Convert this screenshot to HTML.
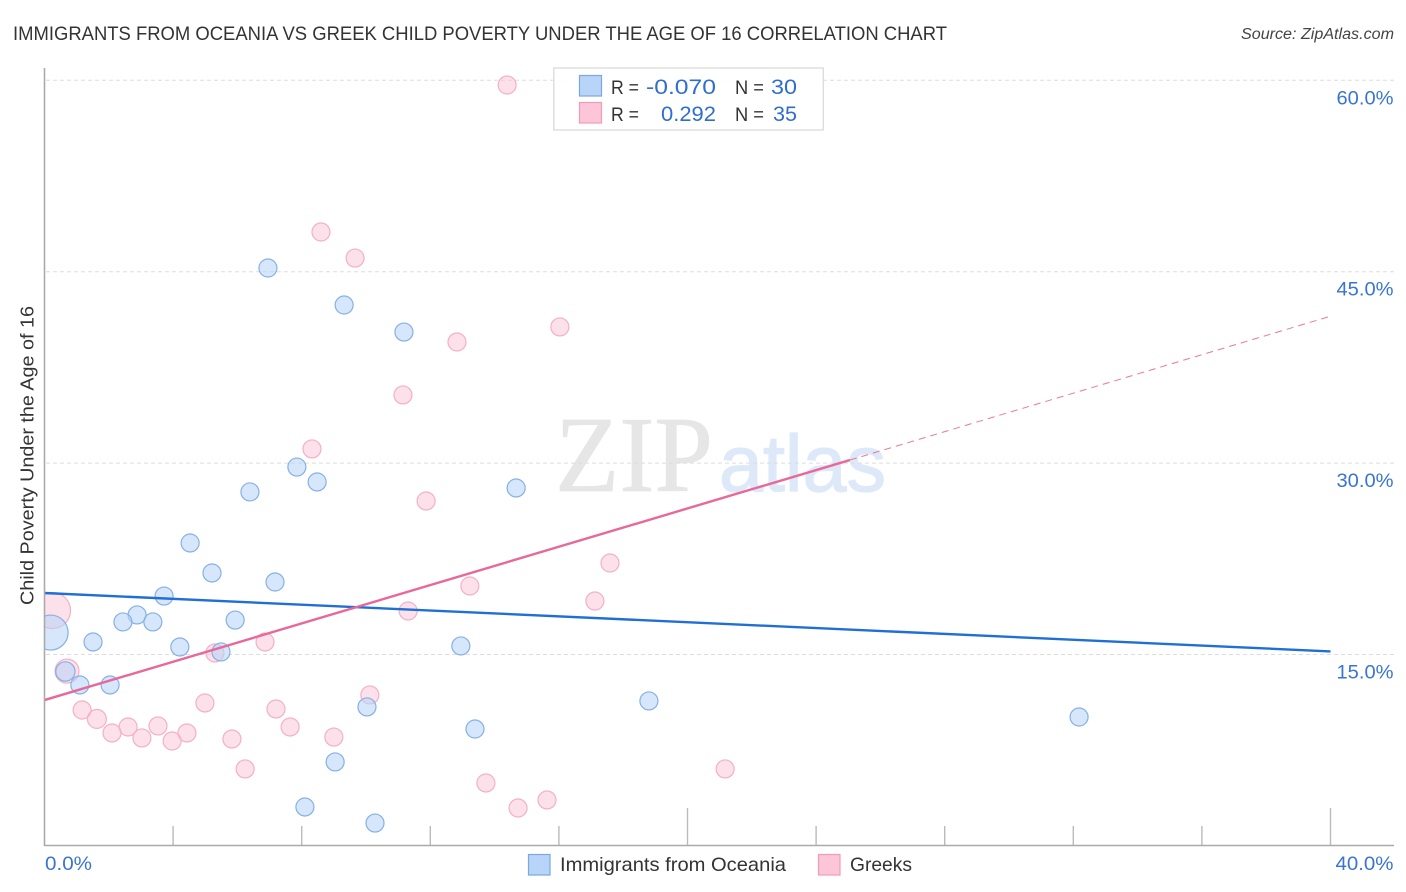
<!DOCTYPE html>
<html lang="en">
<head>
<meta charset="utf-8">
<title>Immigrants from Oceania vs Greek Child Poverty Correlation Chart</title>
<style>
html,body{margin:0;padding:0;background:#fff;}
svg{display:block;font-family:"Liberation Sans",sans-serif;}
</style>
</head>
<body>
<svg id="chart" xmlns="http://www.w3.org/2000/svg" width="1406" height="892" viewBox="0 0 1406 892">
  <defs>
    <clipPath id="plot-clip"><rect x="44.5" y="60" width="1350" height="786"/></clipPath>
  </defs>
  <rect x="0" y="0" width="1406" height="892" fill="#ffffff"/>
  <text x="13" y="40" font-size="19.5" fill="#333333" textLength="934" lengthAdjust="spacingAndGlyphs">IMMIGRANTS FROM OCEANIA VS GREEK CHILD POVERTY UNDER THE AGE OF 16 CORRELATION CHART</text>
  <text x="1241" y="39" font-size="15.5" font-style="italic" fill="#444444" textLength="153" lengthAdjust="spacingAndGlyphs">Source: ZipAtlas.com</text>

  <g>
    <text x="555" y="491" font-family="'Liberation Serif',serif" font-size="108" fill="#e6e6e6" stroke="#e6e6e6" stroke-width="0.8" textLength="158" lengthAdjust="spacingAndGlyphs">ZIP</text>
    <text x="719" y="491" font-size="80" fill="#dde9f8" stroke="#dde9f8" stroke-width="1.2" textLength="167" lengthAdjust="spacingAndGlyphs">atlas</text>
  </g>

  <g id="grid"></g>
  <g id="ticks"></g>
  <g id="points" clip-path="url(#plot-clip)"></g>
  <g id="trends" clip-path="url(#plot-clip)"></g>

  <line x1="44.5" y1="68" x2="44.5" y2="846" stroke="#aaaaaa" stroke-width="1.6"/>
  <line x1="44" y1="845.5" x2="1394" y2="845.5" stroke="#aaaaaa" stroke-width="1.6"/>
  <g id="labels"></g>

  <text transform="translate(33.5,605) rotate(-90)" font-size="18.5" fill="#333333" textLength="299" lengthAdjust="spacingAndGlyphs">Child Poverty Under the Age of 16</text>

  <g>
    <rect x="553.8" y="68" width="269.5" height="62" fill="#ffffff" fill-opacity="0.9" stroke="#dddddd" stroke-width="1.4"/>
    <rect x="579.5" y="75.5" width="22" height="20.5" fill="#b8d4f8" stroke="#7aa8e0" stroke-width="1.2"/>
    <rect x="579.5" y="102.5" width="22" height="20.5" fill="#fcc5d8" stroke="#f29bb9" stroke-width="1.2"/>
    <text x="611" y="94" font-size="19" fill="#333333" textLength="28" lengthAdjust="spacingAndGlyphs">R =</text>
    <text x="716" y="94" font-size="21.5" fill="#2f6ecf" text-anchor="end" textLength="70" lengthAdjust="spacingAndGlyphs">-0.070</text>
    <text x="735" y="94" font-size="19" fill="#333333" textLength="29" lengthAdjust="spacingAndGlyphs">N =</text>
    <text x="797" y="94" font-size="21.5" fill="#2f6ecf" text-anchor="end" textLength="26" lengthAdjust="spacingAndGlyphs">30</text>
    <text x="611" y="121" font-size="19" fill="#333333" textLength="28" lengthAdjust="spacingAndGlyphs">R =</text>
    <text x="716" y="121" font-size="21.5" fill="#2f6ecf" text-anchor="end" textLength="55" lengthAdjust="spacingAndGlyphs">0.292</text>
    <text x="735" y="121" font-size="19" fill="#333333" textLength="29" lengthAdjust="spacingAndGlyphs">N =</text>
    <text x="797" y="121" font-size="21.5" fill="#2f6ecf" text-anchor="end" textLength="24" lengthAdjust="spacingAndGlyphs">35</text>
  </g>

  <g>
    <rect x="528.5" y="854.5" width="21.5" height="20.5" fill="#b8d4f8" stroke="#7aa8e0" stroke-width="1.2"/>
    <text x="560" y="871" font-size="19.5" fill="#333333" textLength="226" lengthAdjust="spacingAndGlyphs">Immigrants from Oceania</text>
    <rect x="818.5" y="854.5" width="21.5" height="20.5" fill="#fcc5d8" stroke="#f29bb9" stroke-width="1.2"/>
    <text x="850" y="871" font-size="19.5" fill="#333333" textLength="62" lengthAdjust="spacingAndGlyphs">Greeks</text>
  </g>
</svg>
<script>
const yTicks = [15, 30, 45, 60];
const yTickLabels = ['15.0%', '30.0%', '45.0%', '60.0%'];
const xTicks = [4, 8, 12, 16, 20, 24, 28, 32, 36, 40];
const xMajorTicks = [20, 40];
const xEndTicks = [0, 40];
const xEndLabels = ['0.0%', '40.0%'];

const oceaniaX = [6.95, 9.32, 11.18, 7.85, 8.48, 6.39, 14.67, 4.53, 5.21, 7.17, 3.72, 2.88, 2.44, 3.37, 5.93, 1.51, 4.21, 5.49, 12.95, 0.65, 1.10, 2.04, 18.80, 10.03, 13.39, 32.18, 9.04, 8.10, 10.28, 0.19];
const oceaniaY = [45.29, 42.39, 40.27, 29.69, 28.52, 27.74, 28.05, 23.74, 21.39, 20.68, 19.58, 18.10, 17.55, 17.55, 17.70, 15.98, 15.59, 15.20, 15.67, 13.67, 12.61, 12.61, 11.36, 10.89, 9.16, 10.10, 6.58, 3.05, 1.79, 16.72];
const oceaniaWeight = [1, 1, 1, 1, 1, 1, 1, 1, 1, 1, 1, 1, 1, 1, 1, 1, 1, 1, 1, 1.15, 1, 1, 1, 1, 1, 1, 1, 1, 1, 3.78];

const greeksX = [14.39, 8.60, 9.66, 16.03, 12.83, 11.15, 8.32, 11.87, 17.59, 13.23, 17.12, 11.31, 6.86, 5.30, 0.70, 10.12, 4.99, 1.17, 7.20, 1.63, 2.60, 3.53, 7.64, 2.10, 4.43, 3.03, 3.97, 5.83, 9.00, 6.24, 21.17, 13.73, 14.73, 15.63, 0.25];
const greeksY = [59.63, 48.11, 46.07, 40.67, 39.49, 35.34, 31.11, 27.03, 22.17, 20.37, 19.19, 18.41, 15.98, 15.12, 13.70, 11.83, 11.20, 10.65, 10.73, 9.95, 9.32, 9.40, 9.32, 8.85, 8.85, 8.46, 8.22, 8.38, 8.53, 6.03, 6.03, 4.93, 2.97, 3.60, 18.45];
const greeksWeight = [1, 1, 1, 1, 1, 1, 1, 1, 1, 1, 1, 1, 1, 1, 1.78, 1, 1, 1, 1, 1.1, 1, 1, 1, 1, 1, 1, 1, 1, 1, 1, 1, 1, 1, 1, 4];

const oceaniaTrendX = [0, 40];
const oceaniaTrendY = [19.82, 15.24];
const greeksTrendX = [0, 25.05];
const greeksTrendY = [11.43, 30.24];
const greeksExtendX = [25.05, 40];
const greeksExtendY = [30.24, 41.51];

const SVG_NS = 'http://www.w3.org/2000/svg';
function xScale(v) { return 44.5 + v * 32.15; }
function yScale(v) { return 845.9 - v * 12.76; }
function radius(w) { return 9 * Math.sqrt(w); }
function make(tag, attrs) {
  const el = document.createElementNS(SVG_NS, tag);
  Object.keys(attrs).forEach(function (k) { el.setAttribute(k, attrs[k]); });
  return el;
}

const gridGroup = document.getElementById('grid');
const tickGroup = document.getElementById('ticks');
const labelGroup = document.getElementById('labels');
const pointGroup = document.getElementById('points');
const trendGroup = document.getElementById('trends');

yTicks.forEach(function (v, i) {
  const y = yScale(v);
  const line = make('line', { x1: 46, y1: y, x2: 1394, y2: y, stroke: '#dddddd', 'stroke-width': 1, 'stroke-dasharray': '4 3' });
  
  
  gridGroup.appendChild(line);

  const label = make('text', { x: 1393.5, y: y + 24, 'font-size': 19.5, fill: '#3a74d2', 'text-anchor': 'end', textLength: yTickLabels[i].length * 11.4, lengthAdjust: 'spacingAndGlyphs' });
  
  
  label.textContent = yTickLabels[i];
  labelGroup.appendChild(label);
});

xTicks.forEach(function (v) {
  const top = xMajorTicks.indexOf(v) >= 0 ? 808 : 826;
  const tick = make('line', { x1: xScale(v), y1: top, x2: xScale(v), y2: 846, stroke: '#bbbbbb', 'stroke-width': 1.4 });
  
  
  tickGroup.appendChild(tick);
});

xEndTicks.forEach(function (v, i) {
  const atStart = v === xEndTicks[0];
  const label = make('text', { x: atStart ? 45 : 1393.5, y: 870, 'font-size': 19.5, fill: '#3a74d2', 'text-anchor': atStart ? 'start' : 'end', textLength: atStart ? 47 : 58, lengthAdjust: 'spacingAndGlyphs' });
  
  
  label.textContent = xEndLabels[i];
  labelGroup.appendChild(label);
});

greeksX.forEach(function (v, i) {
  const c = make('circle', { cx: xScale(v), cy: yScale(greeksY[i]), r: radius(greeksWeight[i]), fill: '#fac4d6', 'fill-opacity': 0.52, stroke: '#f4b0c6', 'stroke-width': 1.2 });
  
  
  pointGroup.appendChild(c);
});

oceaniaX.forEach(function (v, i) {
  const c = make('circle', { cx: xScale(v), cy: yScale(oceaniaY[i]), r: radius(oceaniaWeight[i]), fill: '#b8d4f8', 'fill-opacity': 0.58, stroke: '#86b0e6', 'stroke-width': 1.2 });
  
  
  pointGroup.appendChild(c);
});

const oceaniaLine = make('line', { x1: xScale(oceaniaTrendX[0]), y1: yScale(oceaniaTrendY[0]), x2: xScale(oceaniaTrendX[1]), y2: yScale(oceaniaTrendY[1]), stroke: '#1f6fd6', 'stroke-width': 2.4 });


trendGroup.appendChild(oceaniaLine);

const greeksLine = make('line', { x1: xScale(greeksTrendX[0]), y1: yScale(greeksTrendY[0]), x2: xScale(greeksTrendX[1]), y2: yScale(greeksTrendY[1]), stroke: '#e8689a', 'stroke-width': 2.4 });


trendGroup.appendChild(greeksLine);

const greeksDash = make('line', { x1: xScale(greeksExtendX[0]), y1: yScale(greeksExtendY[0]), x2: xScale(greeksExtendX[1]), y2: yScale(greeksExtendY[1]), stroke: '#e8789f', 'stroke-width': 1, 'stroke-dasharray': '7 5' });


trendGroup.appendChild(greeksDash);
</script>
</body>
</html>
